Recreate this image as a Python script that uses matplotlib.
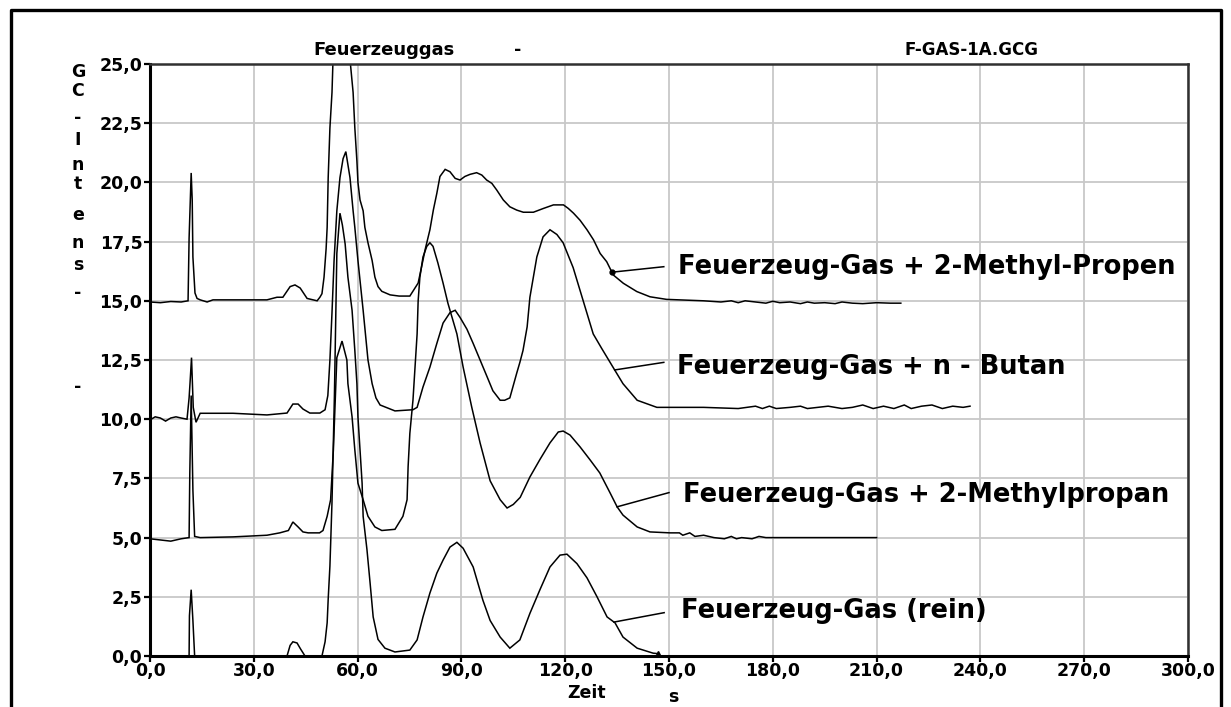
import numpy as np
import matplotlib
matplotlib.use("Agg")
import matplotlib.pyplot as plt
from matplotlib.lines import Line2D

# ---------------- data ----------------
x_ticks = [0, 30, 60, 90, 120, 150, 180, 210, 240, 270, 300]
y_ticks = [0.0, 2.5, 5.0, 7.5, 10.0, 12.5, 15.0, 17.5, 20.0, 22.5, 25.0]
x_tick_labels = ["0,0", "30,0", "60,0", "90,0", "120,0", "150,0", "180,0",
                 "210,0", "240,0", "270,0", "300,0"]
y_tick_labels = ["0,0", "2,5", "5,0", "7,5", "10,0", "12,5", "15,0",
                 "17,5", "20,0", "22,5", "25,0"]

series_labels = ["Feuerzeug-Gas (rein)",
                 "Feuerzeug-Gas + 2-Methylpropan",
                 "Feuerzeug-Gas + n - Butan",
                 "Feuerzeug-Gas + 2-Methyl-Propen"]

# trace A : Feuerzeug-Gas (rein)
rein_t = [0, 11.3, 11.4, 11.9, 12.4, 12.9, 39.6, 40.5, 41.3, 42.5, 43.5, 44.8,
          49.7, 50.6, 51.2, 51.5, 52.0, 52.6, 53.3, 54.0, 54.9, 55.6, 56.4,
          57.2, 58.4, 59.2, 59.8, 60.1, 60.7, 61.3, 61.6, 62.7, 63.6, 64.5,
          65.9, 67.9, 70.8, 75.1, 77.2, 78.9, 80.9, 82.9, 84.7, 86.7, 88.7,
          90.5, 93.4, 96.2, 98.3, 101.2, 104.0, 106.9, 109.8, 112.7, 115.6,
          118.5, 120.5, 123.4, 126.3, 129.2, 132.1, 134.4, 136.7, 140.8,
          145.4, 146.8]
rein_y = [0, 0, 1.7, 2.8, 1.5, 0, 0, 0.45, 0.6, 0.55, 0.3, 0,
          0, 0.6, 1.4, 2.4, 3.8, 6.5, 11.0, 17.0, 18.7, 18.2, 17.4,
          16.0, 14.6, 12.9, 11.5, 10.1, 8.7, 7.3, 5.9, 4.5, 3.1, 1.65,
          0.7, 0.33, 0.17, 0.25, 0.68, 1.65, 2.66, 3.5, 4.05, 4.6, 4.8,
          4.55, 3.76, 2.36, 1.5, 0.8, 0.33, 0.68, 1.8, 2.8, 3.76,
          4.26, 4.3, 3.9, 3.3, 2.5, 1.65, 1.4, 0.8, 0.33,
          0.12, 0.1]

# trace B : + 2-Methylpropan
mpropan_t = [0, 3.0, 6.0, 9.0, 11.3, 11.5, 11.9, 12.4, 12.9, 14.5, 24.0, 33.8,
             37.5, 40.0, 41.3, 42.8, 44.2, 45.7, 49.0, 50.0, 51.2, 52.2, 53.0,
             54.0, 55.5, 56.9, 57.2, 58.4, 59.2, 60.1, 61.6, 63.0, 65.0, 67.0,
             70.8, 73.1, 74.3, 74.6, 75.1, 76.0, 76.6, 77.2, 77.5, 78.0, 78.9,
             80.0, 80.9, 81.8, 83.2, 84.7, 86.1, 88.7, 90.5, 93.0, 95.4, 98.3,
             101.2, 103.2, 105.0, 107.0, 109.8, 112.7, 115.6, 118.0, 119.4,
             121.4, 124.3, 127.2, 130.0, 133.0, 135.0, 136.7, 140.8, 144.5,
             150.3, 153.0, 154.0, 156.0, 157.5, 160.0, 163.0, 166.0, 168.0,
             169.5, 171.0, 174.0, 176.0, 178.0, 210.0]
mpropan_y = [4.95, 4.9, 4.85, 4.95, 5.0, 7.7, 11.0, 7.0, 5.05, 5.0, 5.03, 5.1,
             5.2, 5.3, 5.66, 5.45, 5.24, 5.2, 5.2, 5.3, 5.9, 6.6, 8.7,
             12.6, 13.3, 12.5, 11.5, 10.1, 8.7, 7.3, 6.6, 5.9, 5.45, 5.3,
             5.35, 5.9, 6.6, 8.0, 9.4, 10.8, 12.2, 13.6, 15.0, 16.0, 16.85,
             17.3, 17.45, 17.3, 16.6, 15.75, 14.9, 13.6, 12.2, 10.5, 9.0, 7.4,
             6.6, 6.25, 6.4, 6.7, 7.56, 8.3, 9.0, 9.46, 9.5,
             9.33, 8.83, 8.28, 7.73, 6.88, 6.3, 5.95, 5.45, 5.24,
             5.2, 5.2, 5.1, 5.2, 5.05, 5.1, 5.0, 4.95, 5.05,
             4.95, 5.0, 4.95, 5.05, 5.0, 5.0]

# trace C : + n-Butan
butan_t = [0, 1.5, 3.0, 4.5, 6.0, 7.5, 9.0, 10.7, 11.3, 11.6, 12.0, 12.5, 13.3,
           14.5, 24.0, 33.8, 39.6, 41.3, 42.8, 44.2, 46.2, 49.1, 50.6, 51.4,
           52.0, 52.6, 53.2, 54.0, 54.9, 55.8, 56.6, 57.8, 58.7, 59.2, 60.1,
           61.6, 63.0, 64.2, 65.3, 66.5, 70.8, 76.0, 77.2, 78.9, 80.9, 82.9,
           84.7, 86.7, 88.2, 89.6, 91.6, 93.4, 95.4, 97.4, 99.1, 101.2, 102.5,
           104.0, 106.0, 106.9, 107.8, 109.0, 109.8, 111.8, 113.6, 115.6,
           117.6, 119.4, 122.3, 125.2, 128.1, 130.5, 133.8, 136.7, 140.8,
           146.5, 150.3, 160, 170, 175, 177, 179, 181, 185, 188, 190, 193,
           196, 200, 203, 206, 209, 212, 215, 218, 220, 223, 226, 229, 232,
           235, 237]
butan_y = [9.97, 10.1, 10.05, 9.92, 10.05, 10.1, 10.05, 10.0, 10.9, 11.6, 12.6,
           10.5, 9.87, 10.25, 10.25, 10.18, 10.26, 10.64, 10.64, 10.43, 10.26,
           10.26, 10.4, 11.0, 12.5, 14.5, 16.7, 18.8, 20.2, 21.0, 21.3, 20.2,
           18.8, 18.1, 16.7, 14.6, 12.5, 11.5, 10.9, 10.6, 10.35, 10.4, 10.5,
           11.36, 12.2, 13.2, 14.06, 14.5, 14.6, 14.3, 13.8, 13.2, 12.5, 11.8,
           11.2, 10.8, 10.8, 10.9, 11.95, 12.4, 12.9, 13.9, 15.15, 16.85,
           17.7, 18.0, 17.8, 17.45, 16.4, 15.0, 13.6, 13.0, 12.2, 11.5, 10.8,
           10.5, 10.5, 10.5, 10.45, 10.55, 10.45, 10.55, 10.45, 10.5, 10.55,
           10.45, 10.5, 10.55, 10.45, 10.5, 10.6, 10.45, 10.55, 10.45, 10.6,
           10.45, 10.55, 10.6, 10.45, 10.55, 10.5, 10.55]

# trace D : + 2-Methyl-Propen
propen_t = [0, 3.0, 6.0, 9.0, 11.0, 11.3, 11.9, 12.2, 12.4, 13.0, 13.6, 14.5,
            16.5, 18.2, 33.8, 36.7, 38.4, 40.5, 41.9, 43.4, 45.4, 48.3, 49.1,
            49.7, 50.3, 50.9, 51.2, 51.5, 52.0, 52.6, 52.9, 55.5, 57.8, 58.7,
            59.2, 59.8, 60.1, 60.7, 61.6, 62.1, 63.0, 64.2, 65.0, 65.9, 67.0,
            69.4, 72.0, 75.1, 77.5, 78.5, 79.5, 80.9, 81.9, 82.9, 83.8, 85.3,
            86.7, 88.2, 89.6, 91.0, 92.5, 94.4, 95.9, 97.3, 98.8, 100.2, 102.1,
            104.0, 106.0, 107.9, 110.8, 113.7, 116.6, 119.5, 120.9, 122.4,
            124.3, 126.3, 128.2, 130.1, 132.0, 133.9, 136.8, 140.7, 144.5,
            149.3, 160.0, 165.0, 168.0, 170.0, 172.0, 175.0, 178.0, 180.0,
            182.0, 185.0, 188.0, 190.0, 192.0, 195.0, 198.0, 200.0, 203.0,
            206.0, 210.0, 214.0, 217.0]
propen_y = [14.95, 14.92, 14.97, 14.95, 15.0, 17.65, 20.4, 19.26, 16.85, 15.33,
            15.1, 15.04, 14.95, 15.04, 15.04, 15.15, 15.15, 15.6, 15.67, 15.54,
            15.1, 15.0, 15.15, 15.3, 16.0, 17.2, 18.1, 20.2, 22.3, 23.8, 25.2,
            28.0, 25.2, 23.8, 22.3, 20.9, 20.0, 19.26, 18.8, 18.1, 17.45, 16.7,
            16.0, 15.6, 15.4, 15.25, 15.2, 15.2, 15.75, 16.44, 17.15, 18.0,
            18.84, 19.54, 20.25, 20.55, 20.45, 20.17, 20.1, 20.25, 20.34,
            20.41, 20.31, 20.1, 19.96, 19.68, 19.26, 18.97, 18.83, 18.74,
            18.74, 18.9, 19.05, 19.05, 18.9, 18.7, 18.4, 18.0, 17.57, 17.0,
            16.65, 16.09, 15.74, 15.39, 15.17, 15.06, 15.0, 14.95, 15.0, 14.92,
            15.0, 14.95, 14.9, 14.98, 14.92, 14.95, 14.88, 14.95, 14.9, 14.92,
            14.88, 14.95, 14.9, 14.88, 14.92, 14.9, 14.9]

y_axis_letters = ["G", "C", "-", "I", "n", "t", "e", "n", "s", "-", "-"]

# ---------------- figure ----------------
W, H = 1231, 707
fig = plt.figure(figsize=(W / 100, H / 100), dpi=100)
fig.patch.set_facecolor("white")


def fx(px):
    return px / W


def fy(py):
    return 1 - py / H


ax_left, ax_right, ax_top, ax_bottom = 150, 1188, 64, 656
ax = fig.add_axes([fx(ax_left), fy(ax_bottom),
                   (ax_right - ax_left) / W, (ax_bottom - ax_top) / H])
ax.set_xlim(0, 300)
ax.set_ylim(0, 25)

ax.set_xticks(x_ticks)
ax.set_xticklabels(x_tick_labels)
ax.set_yticks(y_ticks)
ax.set_yticklabels(y_tick_labels)
for lab in ax.get_xticklabels() + ax.get_yticklabels():
    lab.set_fontfamily("DejaVu Sans")
    lab.set_fontweight("bold")
    lab.set_fontsize(12.5)
ax.tick_params(axis="both", direction="out", length=4.5, width=1.6,
               color="black", pad=1)
ax.tick_params(axis="x", pad=0)
ax.grid(True, color="#c8c8c8", linewidth=1.3)
ax.set_axisbelow(True)
for side in ["left", "bottom"]:
    ax.spines[side].set_linewidth(2.2)
    ax.spines[side].set_color("black")
for side in ["top", "right"]:
    ax.spines[side].set_linewidth(1.8)
    ax.spines[side].set_color("#303030")

traces = [(rein_t, rein_y), (mpropan_t, mpropan_y),
          (butan_t, butan_y), (propen_t, propen_y)]
for t, y in traces:
    ax.plot(t, y, color="black", linewidth=1.1, solid_joinstyle="miter",
            clip_on=True)

# small end marker on the pure-gas trace
ax.plot([rein_t[-1]], [rein_y[-1]], marker="^", markersize=4, color="black")

# leader lines and labels
leader_start_t = [134.1, 135.0, 134.3, 133.5]
leader_end = [(148.6, 1.83), (150.0, 6.9), (148.5, 12.4), (148.5, 16.44)]
label_pos = [(153.5, 1.9), (154.0, 6.8), (152.3, 12.2), (152.6, 16.44)]
for i, (t, y) in enumerate(traces):
    xs = leader_start_t[i]
    ys = float(np.interp(xs, t, y))
    xe, ye = leader_end[i]
    ax.plot([xs, xe], [ys, ye], color="black", linewidth=1.1)
    if i == 3:
        ax.plot([xs], [ys], marker="o", markersize=3.5, color="black")
    ax.text(label_pos[i][0], label_pos[i][1], series_labels[i],
            fontsize=18.5, fontweight="bold", family="DejaVu Sans",
            ha="left", va="center", color="black")

# title texts
fig.text(fx(313), fy(50), "Feuerzeuggas", fontsize=13, fontweight="bold",
         ha="left", va="center")
fig.text(fx(518), fy(50), "-", fontsize=12.5, fontweight="bold",
         ha="center", va="center")
fig.text(fx(972), fy(50), "F-GAS-1A.GCG", fontsize=12, fontweight="bold",
         ha="center", va="center")

# stacked y-axis label
letter_y = [72, 91, 118, 140, 165, 184, 215, 243, 265, 293, 387]
for ch, py in zip(y_axis_letters, letter_y):
    fig.text(fx(78), fy(py), ch, fontsize=12.5, fontweight="bold",
             ha="center", va="center")

# x-axis label
fig.text(fx(567), fy(693), "Zeit", fontsize=12.5, fontweight="bold",
         ha="left", va="center")
fig.text(fx(673), fy(697), "s", fontsize=12.5, fontweight="bold",
         ha="center", va="center")

# outer frame (left, top, right)
frame_x = [fx(11), fx(11), fx(1221), fx(1221)]
frame_y = [-0.05, fy(10), fy(10), -0.05]
fig.add_artist(Line2D(frame_x, frame_y, color="black", linewidth=2.4,
                      transform=fig.transFigure))

fig.savefig("out.png", dpi=100)
